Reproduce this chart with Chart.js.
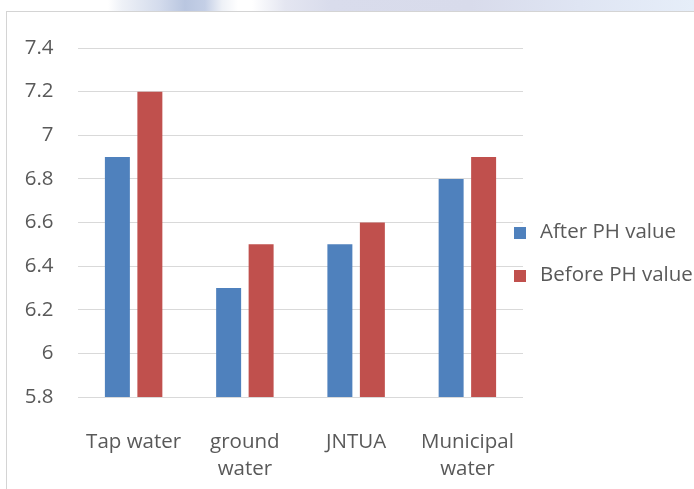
<!DOCTYPE html>
<html>
<head>
<meta charset="utf-8">
<script src="https://cdn.jsdelivr.net/npm/chart.js@4/dist/chart.umd.min.js"></script>
<style>
  html, body { margin: 0; padding: 0; background: #ffffff; }
  #wrap { position: relative; width: 694px; height: 489px; overflow: hidden; background: #ffffff; }
  #band {
    position: absolute; left: 0; top: 0; width: 694px; height: 11px;
    background: linear-gradient(to right, #ffffff 0px, #ffffff 108px, #eef1f7 122px, #d3dbec 160px,
      #b9c6e0 185px, #c4cfe6 205px, #eef1f7 222px, #ffffff 238px, #ffffff 252px, #e4e6f1 285px,
      #d9dcec 330px, #d8dbeb 470px, #dfe5f3 580px, #e6eef9 694px);
  }
  #frame {
    position: absolute; left: 6px; top: 11px; width: 700px; height: 490px;
    border-top: 1px solid #d4d4d4; border-left: 1px solid #d4d4d4;
  }
  canvas { position: absolute; left: 0; top: 0; }
</style>
</head>
<body>
<div id="wrap">
  <div id="band"></div>
  <div id="frame"></div>
  <canvas id="c" width="694" height="489"></canvas>
</div>
<script>
// pH readings per water source
const categories = [["Tap water"], ["ground", "water"], ["JNTUA"], ["Municipal", "water"]];
const afterPH = [6.9, 6.3, 6.5, 6.8];
const beforePH = [7.2, 6.5, 6.6, 6.9];
const seriesNames = ["After PH value", "Before PH value"];
const yTicks = [5.8, 6, 6.2, 6.4, 6.6, 6.8, 7, 7.2, 7.4];

const textColor = "#595959";
const fontFamily = "'Open Sans', sans-serif";
const fontSize = 20.5;

// legend drawn beside the plot, squares sitting just left of the gridline ends
const sideLegend = {
  id: "sideLegend",
  afterDraw(chart) {
    const ctx = chart.ctx;
    ctx.save();
    ctx.font = fontSize + "px " + fontFamily;
    ctx.textBaseline = "middle";
    ctx.textAlign = "left";
    chart.data.datasets.forEach((ds, i) => {
      const cy = 232 + i * 43;
      ctx.fillStyle = ds.backgroundColor;
      ctx.fillRect(514, cy - 5, 12, 12);
      ctx.fillStyle = textColor;
      ctx.fillText(ds.label, 540, cy);
    });
    ctx.restore();
  }
};

new Chart(document.getElementById("c"), {
  type: "bar",
  data: {
    labels: categories,
    datasets: [
      { label: seriesNames[0], data: afterPH, backgroundColor: "#4f81bd" },
      { label: seriesNames[1], data: beforePH, backgroundColor: "#c0504d" }
    ]
  },
  options: {
    responsive: false,
    devicePixelRatio: 1,
    animation: false,
    categoryPercentage: 0.584,
    barPercentage: 0.769,
    layout: { padding: { left: 0, top: 48, right: 171, bottom: 0 } },
    plugins: {
      legend: { display: false },
      tooltip: { enabled: false }
    },
    scales: {
      x: {
        grid: { display: false },
        border: { display: false },
        ticks: {
          color: textColor,
          font: { family: fontFamily, size: fontSize, lineHeight: 1.34 },
          padding: 23,
          maxRotation: 0,
          autoSkip: false
        },
        afterFit(scale) { scale.height = 92; }
      },
      y: {
        min: 5.8,
        max: 7.4,
        border: { display: false },
        grid: { color: "#d9d9d9", lineWidth: 1, drawTicks: false },
        afterBuildTicks(scale) { scale.ticks = yTicks.map(v => ({ value: v })); },
        ticks: {
          color: textColor,
          font: { family: fontFamily, size: fontSize },
          padding: 24.5,
          callback: v => String(v)
        },
        afterFit(scale) { scale.width = 78; }
      }
    }
  },
  plugins: [sideLegend]
});
</script>
</body>
</html>
